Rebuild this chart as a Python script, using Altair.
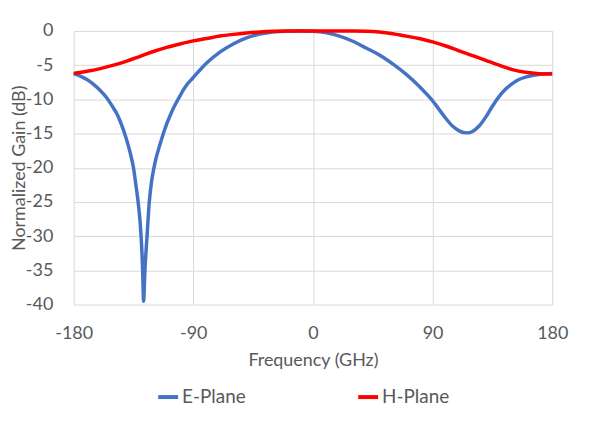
import altair as alt
import pandas as pd

# E-Plane (angle in the x units shown, normalized gain in dB)
e_angle = [-180, -175, -170, -165, -160, -155, -150, -147.5, -145, -140, -137.5, -135, -133,
           -132, -131, -130, -129.3, -128.6, -128.1, -127.4, -126.4, -124.8, -123.1, -121.4,
           -120, -118, -116, -114, -110, -107.5, -105, -100, -97.7, -95, -90, -85, -80, -70,
           -60, -50, -40, -30, -20, -10, 0, 10, 20, 30, 40, 50, 60, 70, 80, 90, 95, 100, 105,
           110, 116, 120, 125, 130, 135, 140, 145, 150, 155, 160, 165, 170, 175, 180]
e_gain = [-6.25, -6.6, -7.1, -7.8, -8.7, -9.8, -11.3, -12.1, -13.2, -16.0, -17.8, -20.0, -22.8,
          -24.2, -25.9, -28.0, -30.0, -32.5, -35.0, -39.5, -35.0, -30.0, -25.0, -22.0,
          -20.4, -18.6, -17.2, -15.9, -13.6, -12.4, -11.3, -9.5, -8.7, -7.9, -6.8, -5.7, -4.7,
          -3.1, -1.9, -1.0, -0.45, -0.15, -0.03, 0.0, -0.05, -0.25, -0.75, -1.5, -2.5, -3.5,
          -4.8, -6.3, -8.1, -10.2, -11.5, -12.8, -13.9, -14.6, -14.9, -14.7, -13.9, -12.6,
          -11.0, -9.6, -8.5, -7.7, -7.1, -6.75, -6.5, -6.35, -6.25, -6.2]

# H-Plane
h_angle = [-180, -170, -160, -150, -140, -130, -120, -110, -100, -90, -80, -70, -60, -50, -40,
           -30, -20, -10, 0, 10, 20, 30, 40, 50, 60, 70, 80, 90, 100, 110, 120, 130, 140, 150,
           160, 170, 180]
h_gain = [-6.2, -5.9, -5.5, -5.0, -4.4, -3.7, -3.0, -2.4, -1.9, -1.45, -1.1, -0.75, -0.5, -0.3,
          -0.15, -0.05, 0.0, 0.0, 0.0, 0.0, 0.0, 0.0, -0.03, -0.15, -0.4, -0.75, -1.1, -1.6, -2.2,
          -2.9, -3.6, -4.3, -5.0, -5.65, -6.05, -6.25, -6.3]

series_names = ["E-Plane", "H-Plane"]
series_colors = ["#4472C4", "#FF0000"]
x_ticks = [-180, -90, 0, 90, 180]
y_ticks = [-40, -35, -30, -25, -20, -15, -10, -5, 0]

df = pd.concat([
    pd.DataFrame({"angle": e_angle, "gain": e_gain, "series": series_names[0]}),
    pd.DataFrame({"angle": h_angle, "gain": h_gain, "series": series_names[1]}),
])

FONT = "Lato"
TXT = "#595959"
GRID = "#D9D9D9"

chart = alt.Chart(df).mark_line(strokeWidth=3.5, interpolate="monotone").encode(
    x=alt.X("angle:Q",
            scale=alt.Scale(domain=[-180, 180], nice=False),
            axis=alt.Axis(values=x_ticks, title="Frequency (GHz)", labelPadding=20,
                          titlePadding=9, labelFlush=False,
                          labelExpr="'' + datum.value")),
    y=alt.Y("gain:Q",
            scale=alt.Scale(domain=[-40, 0], nice=False),
            axis=alt.Axis(values=y_ticks, title="Normalized Gain (dB)", labelPadding=21,
                          labelFlush=False, labelExpr="'' + datum.value",
                          titleX=-54, titleY=137.5, titleAngle=270,
                          titleAlign="center", titleBaseline="middle")),
    color=alt.Color("series:N",
                    scale=alt.Scale(domain=series_names, range=series_colors),
                    legend=alt.Legend(title=None, orient="none", direction="horizontal",
                                      legendX=83, legendY=356, symbolType="stroke",
                                      symbolSize=400, symbolStrokeWidth=4,
                                      labelFontSize=19, labelFont=FONT, labelColor=TXT,
                                      columnPadding=105, labelOffset=2)),
    detail="series:N",
).properties(
    width=481, height=275,
    autosize=alt.AutoSizeParams(type="none"),
    padding={"left": 66, "top": 22, "right": 40, "bottom": 124},
).configure_axis(
    grid=True, gridColor=GRID, gridWidth=1, domain=False, ticks=False,
    labelFont=FONT, labelFontSize=18, labelColor=TXT,
    titleFont=FONT, titleFontSize=18, titleColor=TXT, titleFontWeight="normal",
).configure_view(stroke=None)

chart.save("out.html", embed_options={"renderer": "svg", "actions": False})
